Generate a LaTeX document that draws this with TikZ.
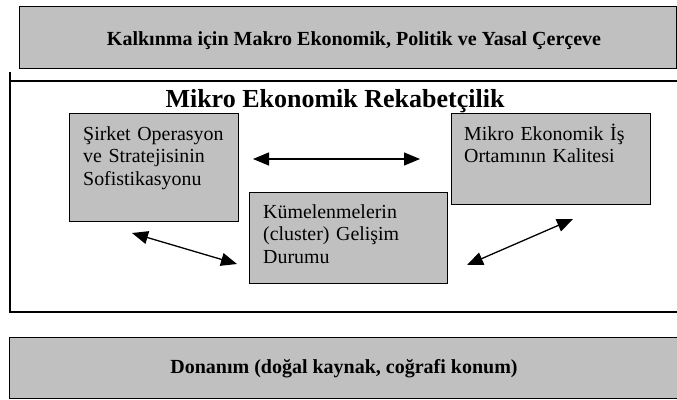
\documentclass[tikz,border=0pt]{standalone}
\usepackage{fontspec}
\setmainfont{Liberation Serif}
\usepackage{xcolor}
\usetikzlibrary{arrows.meta,positioning}
\definecolor{boxgray}{HTML}{C0C0C0}

\begin{document}
\begin{tikzpicture}[x=1pt,y=-1pt,>={Triangle[length=16pt,width=13pt]},
  box/.style={draw, fill=boxgray, line width=1.2pt, inner sep=0pt, anchor=north west},
  headtext/.style={font=\fontsize{20}{24}\selectfont\bfseries, inner sep=0pt, anchor=base},
  boxtext/.style={font=\fontsize{19.9}{22.8}\selectfont, align=left, text width=190pt,
    inner sep=0pt, anchor=base west},
  link/.style={<->, line width=1.3pt}]
  \useasboundingbox (0,0) rectangle (677,399);
  \clip (0,0) rectangle (677,399);

  % ust ve alt seritler
  \node[box, minimum width=657pt, minimum height=62pt] (macro) at (19,6) {};
  \node[headtext] (macrotxt) at (354,45) {Kalkınma için Makro Ekonomik, Politik ve Yasal Çerçeve};
  \node[box, minimum width=680pt, minimum height=61pt] (endow) at (9,337) {};
  \node[headtext] (endowtxt) at (344,373) {Donanım (doğal kaynak, coğrafi konum)};

  % mikro cerceve
  \draw[line width=1.2pt] (10,72) -- (10,312) -- (690,312);
  \draw[line width=1.6pt] (10,81) -- (690,81);
  \node[font=\fontsize{26}{30}\selectfont\bfseries, inner sep=0pt, anchor=base] (micro)
    at (335,107) {Mikro Ekonomik Rekabetçilik};

  \node[box, minimum width=169pt, minimum height=108pt] (firm) at (69,113) {};
  \node[boxtext] (firmtxt) at (83,140) {Şirket Operasyon\\ve Stratejisinin\\Sofistikasyonu};
  \node[box, minimum width=199pt, minimum height=91pt] (env) at (451,113) {};
  \node[boxtext] (envtxt) at (464,140) {Mikro Ekonomik İş\\Ortamının Kalitesi};
  \node[box, minimum width=198pt, minimum height=91pt] (cluster) at (249,192) {};
  \node[boxtext] (clustertxt) at (263,218) {Kümelenmelerin\\(cluster) Gelişim\\Durumu};

  \coordinate (h1) at (253,159);
  \coordinate (h2) at (420,159);
  \coordinate (l1) at (132,233);
  \coordinate (l2) at (237,264);
  \coordinate (r1) at (467,265);
  \coordinate (r2) at (573,219);
  \draw[link] (h1) -- (h2);
  \draw[link] (l1) -- (l2);
  \draw[link] (r1) -- (r2);
\end{tikzpicture}
\end{document}
